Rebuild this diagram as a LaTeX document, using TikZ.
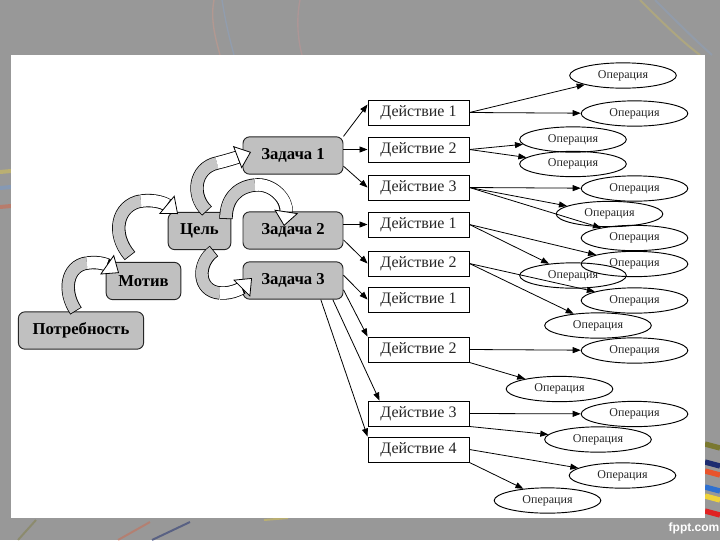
\documentclass[tikz,border=0pt]{standalone}
\usepackage{fontspec}
\setmainfont{Liberation Serif}
\newfontfamily\sitefont{Liberation Sans}
\usepackage{tikz}
\usetikzlibrary{arrows.meta, positioning, shapes.geometric, calc}
\definecolor{slidegray}{HTML}{989898}
\definecolor{boxgray}{HTML}{C0C0C0}
\definecolor{bandgray}{HTML}{C6C6C6}
\definecolor{textgray}{HTML}{262626}
\definecolor{stripeolive}{HTML}{7A7830}
\definecolor{stripenavy}{HTML}{1C2C70}
\definecolor{stripeorange}{HTML}{E8542C}
\definecolor{stripeblue}{HTML}{2E70D0}
\definecolor{stripeyellow}{HTML}{EED23A}
\definecolor{stripered}{HTML}{E02222}
% curved band arrow: #1 grey rising part, #2 white part ending in the head
\newcommand{\bendarrow}[2]{%
  \draw[line width=10pt, black] #1;
  \draw[line width=10pt, black, shorten >=10pt] #2;
  \draw[line width=8.8pt, bandgray, shorten <=0.6pt] #1;
  \draw[line width=8.8pt, white, -{Triangle[length=11pt, width=18pt, color=black, fill=white, line width=0.6pt]}] #2;
}
\tikzset{
  need/.style={draw=black!85, fill=boxgray, rounded corners=5pt, line width=0.7pt,
    minimum height=28pt, inner sep=2pt, font=\bfseries\fontsize{12.5}{14}\selectfont},
  act/.style={draw=black, fill=white, line width=0.7pt, minimum width=75.75pt,
    minimum height=18.75pt, inner sep=0pt, text=textgray, font=\fontsize{12}{14}\selectfont},
  oper/.style={ellipse, draw=black, line width=0.7pt, minimum width=80pt,
    minimum height=19pt, inner sep=0pt, text=textgray, font=\fontsize{9}{10}\selectfont},
  conn/.style={-{Triangle[length=6pt, width=4.5pt]}, line width=0.6pt},
}

\begin{document}
\begin{tikzpicture}[x=0.75pt, y=-0.75pt]
  \useasboundingbox (0,0) rectangle (720,540);
  \fill[slidegray] (0,0) rectangle (720,540);

  % faint streaks of the slide background
  \draw[stripeorange!60, opacity=0.3, line width=1pt] (214,0) .. controls (210,20) and (216,40) .. (220,55);
  \draw[stripeblue!60, opacity=0.3, line width=1pt] (222,0) .. controls (226,25) and (230,40) .. (234,55);
  \draw[stripered!50, opacity=0.25, line width=1pt] (300,0) .. controls (296,20) and (298,40) .. (302,55);
  \draw[stripeyellow, opacity=0.25, line width=1.5pt] (640,0) .. controls (660,20) and (680,40) .. (700,55);
  \draw[stripeblue!60, opacity=0.25, line width=1.5pt] (655,0) .. controls (675,20) and (695,40) .. (712,55);
  \draw[stripeyellow, opacity=0.4, line width=3pt] (0,172) -- (11,171);
  \draw[stripeblue!70, opacity=0.4, line width=3pt] (0,188) -- (11,187);
  \draw[stripeorange, opacity=0.4, line width=3pt] (0,207) -- (11,206);
  \draw[stripeolive, opacity=0.4, line width=1.5pt] (18,540) -- (36,520);
  \draw[stripeorange, opacity=0.35, line width=1.5pt] (118,540) -- (150,522);
  \draw[stripenavy, opacity=0.5, line width=1.5pt] (152,540) -- (190,522);
  \draw[stripeyellow, opacity=0.4, line width=1.5pt] (264,520) -- (288,518);

  % coloured stripes at the lower right
  \foreach \y/\c in {444/stripeolive, 462/stripenavy, 471/stripeorange, 487/stripeblue, 496/stripeyellow, 511/stripered}
    \draw[\c, line width=4pt] (705,\y) -- (720,\y+4);

  \fill[white] (11,55) rectangle (705,518);
  \node[text=white, font=\sitefont\bfseries\fontsize{9}{10}\selectfont] (site) at (694,528) {fppt.com};

  % need -> motive -> goal -> tasks
  \node[need, minimum width=94pt] (pot) at (81,330.5) {Потребность};
  \node[need, minimum width=56pt] (mot) at (143.5,281) {Мотив};
  \node[need, minimum width=47pt] (cel) at (199.5,231) {Цель};
  \node[need, minimum width=75pt] (z1) at (293,155.5) {Задача 1};
  \node[need, minimum width=75pt] (z2) at (293,230.5) {Задача 2};
  \node[need, minimum width=75pt] (z3) at (293,280.5) {Задача 3};

  % actions
  \foreach \n/\y/\t in {a1/112.5/Действие 1, a2/149.5/Действие 2, a3/187.5/Действие 3,
                        b1/224.5/Действие 1, b2/263.5/Действие 2,
                        c1/299.5/Действие 1, c2/349.5/Действие 2, c3/413.5/Действие 3, c4/449.5/Действие 4}
    \node[act] (d\n) at (418.5,\y) {\t};

  % operations
  \foreach \n/\x/\y in {1/623/75.5, 2/634.5/113.5, 3/573/139.5, 4/573/164, 5/634.5/188.5,
                        6/609.5/214, 7/634.5/238, 8/634.5/264, 9/573/275.5, 10/634.5/300.5,
                        11/598/325.5, 12/634.5/350.5, 13/559.5/389, 14/634.5/414, 15/598/439.5,
                        16/622.5/475.5, 17/547.5/500.5}
    \node[oper] (e\n) at (\x,\y) {Операция};

  % tasks -> actions
  \draw[conn] (z1.north east) -- ([yshift=6pt]da1.west);
  \draw[conn] (z1.east |- da2) -- (da2.west);
  \draw[conn] ([yshift=-8pt]z1.east) -- (da3.west);
  \draw[conn] (z2.east |- db1) -- (db1.west);
  \draw[conn] ([yshift=-7pt]z2.east) -- (db2.west);
  \draw[conn] ([yshift=4pt]z3.east) -- (dc1.west);
  \draw[conn] ([yshift=-7pt]z3.east) -- (dc2.north west);
  \draw[conn] ([xshift=-8pt]z3.south east) -- ([xshift=9pt]dc3.north west);
  \draw[conn] ([xshift=-17pt]z3.south east) -- (dc4.north west);

  % actions -> operations
  \draw[conn] (da1.east) -- (e1);
  \draw[conn] (da1.east) -- (e2);
  \draw[conn] (da2.east) -- (e3);
  \draw[conn] (da2.east) -- (e4);
  \draw[conn] (da3.east) -- (e5);
  \draw[conn] (da3.east) -- (e6);
  \draw[conn] (da3.east) -- (e7);
  \draw[conn] (db1.east) -- (e8);
  \draw[conn] (db1.east) -- (e9);
  \draw[conn] (db2.east) -- (e10);
  \draw[conn] (db2.east) -- (e11);
  \draw[conn] (dc2.east) -- (e12);
  \draw[conn] (dc2.south east) -- (e13);
  \draw[conn] (dc3.east) -- (e14);
  \draw[conn] (dc3.south east) -- (e15);
  \draw[conn] (dc4.east) -- (e16);
  \draw[conn] (dc4.south east) -- (e17);

  % curved band arrows
  \bendarrow{(76,311) .. controls (63,292) and (66,266) .. (87,263)}
            {(87,263) .. controls (101,261) and (109,266) .. (119,273)}
  \bendarrow{(130,256) .. controls (111,234) and (117,205) .. (141,201)}
            {(141,201) .. controls (156,199) and (166,204) .. (178,214)}
  \bendarrow{(207,211) .. controls (191,196) and (194,168) .. (217,163)}
            {(217,163) .. controls (229,160) and (238,157) .. (251,152)}
  \bendarrow{(226,219) .. controls (226,200) and (236,187) .. (255,185)}
            {(255,185) .. controls (273,183) and (288,200) .. (284,226)}
  \bendarrow{(214,251) .. controls (197,263) and (197,291) .. (220,293)}
            {(220,293) .. controls (233,294) and (243,287) .. (252,278)}
\end{tikzpicture}
\end{document}
